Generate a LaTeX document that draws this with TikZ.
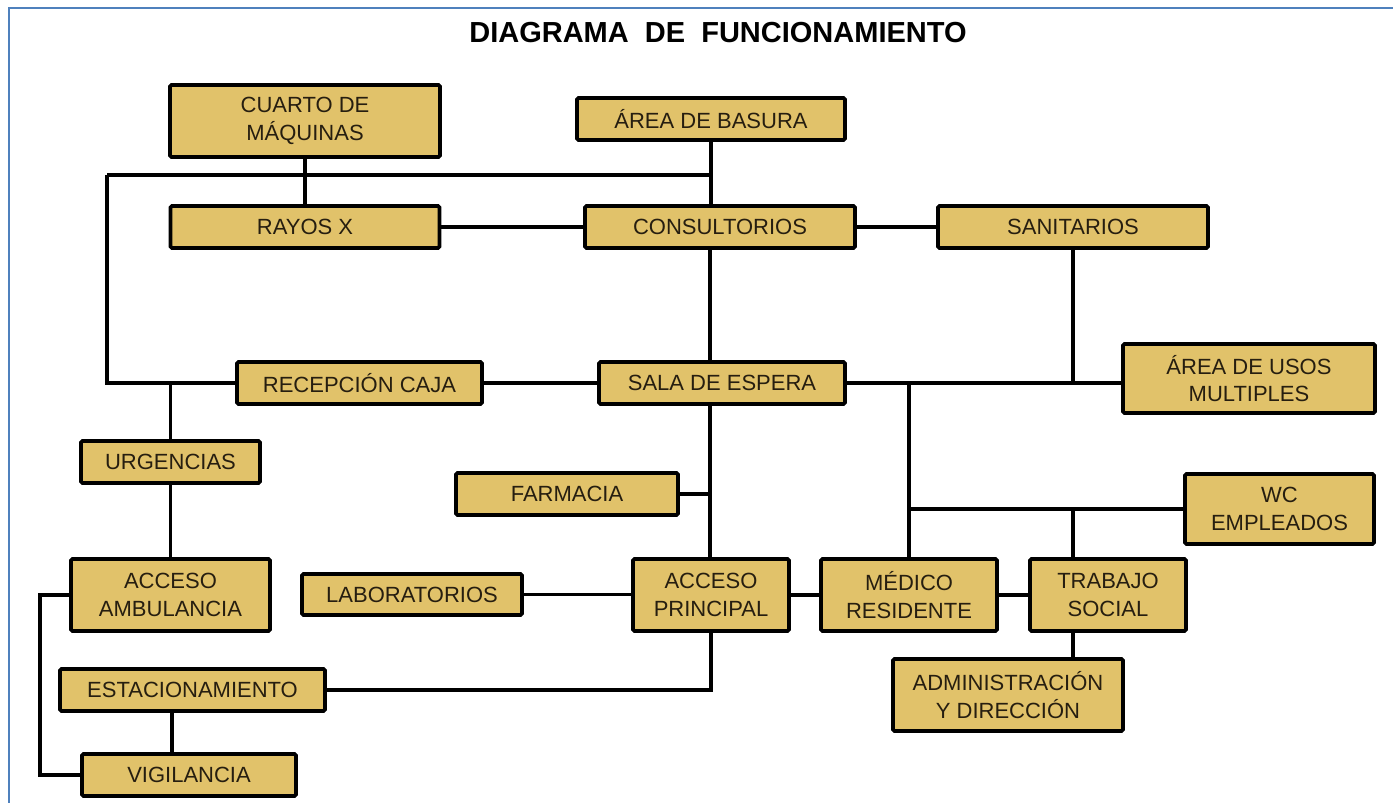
\documentclass[tikz,border=0pt]{standalone}
\usepackage{fontspec}
\setmainfont{Liberation Sans}
\definecolor{boxfill}{HTML}{E1C26A}
\definecolor{boxtext}{HTML}{261E10}
\definecolor{frameblue}{HTML}{4F81BD}
\begin{document}
\begin{tikzpicture}[x=1pt,y=-1pt,
  roombox/.style={draw=black, line width=3.6pt, fill=boxfill, rounded corners=1.5pt,
    text=boxtext, align=center, inner sep=0pt,
    font=\fontsize{22}{27.5}\selectfont},
  link/.style={draw=black, line width=3.6pt}]
\useasboundingbox (0,0) rectangle (1393,803);
\fill[white] (0,0) rectangle (1393,803);
\draw[frameblue, line width=2.2pt] (9,803) -- (9,8) -- (1393,8);

\node[font=\bfseries\fontsize{29}{32}\selectfont] (title) at (718,33) {DIAGRAMA\ \ DE\ \ FUNCIONAMIENTO};

\node[roombox, minimum width=270, minimum height=72] (cuarto) at (305,121) {CUARTO DE\\MÁQUINAS};
\node[roombox, minimum width=268, minimum height=42] (basura) at (711,119) {ÁREA DE BASURA};
\node[roombox, minimum width=269, minimum height=42] (rayos) at (305,227) {RAYOS X};
\node[roombox, minimum width=270, minimum height=42] (consult) at (720,227) {CONSULTORIOS};
\node[roombox, minimum width=270, minimum height=42] (sanit) at (1073,227) {SANITARIOS};
\node[roombox, minimum width=245, minimum height=42] (recep) at (359.5,383) {RECEPCIÓN CAJA};
\node[roombox, minimum width=246, minimum height=42] (sala) at (722,383) {SALA DE ESPERA};
\node[roombox, minimum width=252, minimum height=69] (usos) at (1249,378.5) {ÁREA DE USOS\\MULTIPLES};
\node[roombox, minimum width=179, minimum height=42] (urg) at (170.5,462) {URGENCIAS};
\node[roombox, minimum width=222, minimum height=42] (farm) at (567,494) {FARMACIA};
\node[roombox, minimum width=189, minimum height=70] (wc) at (1279.5,509) {WC\\EMPLEADOS};
\node[roombox, minimum width=199, minimum height=72] (ambu) at (170.5,595) {ACCESO\\AMBULANCIA};
\node[roombox, minimum width=220, minimum height=41] (lab) at (412,594.5) {LABORATORIOS};
\node[roombox, minimum width=156, minimum height=72] (accp) at (711,595) {ACCESO\\PRINCIPAL};
\node[roombox, minimum width=176, minimum height=72] (medico) at (909,595) {MÉDICO\\RESIDENTE};
\node[roombox, minimum width=156, minimum height=72] (trabajo) at (1108,595) {TRABAJO\\SOCIAL};
\node[roombox, minimum width=230, minimum height=72] (admin) at (1008,695) {ADMINISTRACIÓN\\Y DIRECCIÓN};
\node[roombox, minimum width=265, minimum height=42] (estac) at (192.5,690) {ESTACIONAMIENTO};
\node[roombox, minimum width=214, minimum height=42] (vigil) at (189,775) {VIGILANCIA};

\coordinate (cL) at (107,175);
\coordinate (cL2) at (107,383);
\coordinate (sp) at (710,300);
\coordinate (cl) at (172,700);
\coordinate (bx) at (40,700);

\draw[link] (cuarto.south) -- (rayos.north);
\draw[link] (basura.south) -- (basura.south |- consult.north);
\draw[link] (cL) -- (basura.south |- cL);
\draw[link] (cL) -- (cL2) -- (recep.west);
\draw[link] (rayos.east) -- (consult.west);
\draw[link] (consult.east) -- (sanit.west);
\draw[link] (consult.south -| sp) -- (sala.north -| sp);
\draw[link] (recep.east) -- (sala.west);
\draw[link] (sala.east) -- (sala.east -| usos.west);
\draw[link] (sanit.south) -- (sanit.south |- sala.east);
\draw[link] (medico.north |- sala.east) -- (medico.north);
\draw[link] (medico.north |- wc.west) -- (wc.west);
\draw[link] (sanit.south |- wc.west) -- (sanit.south |- trabajo.north);
\draw[link] (urg.north |- cL2) -- (urg.north);
\draw[link] (urg.south) -- (ambu.north);
\draw[link] (sala.south -| sp) -- (accp.north -| sp);
\draw[link] (farm.east) -- (farm.east -| sp);
\draw[link] (lab.east) -- (lab.east -| accp.west);
\draw[link] (accp.east) -- (medico.west);
\draw[link] (medico.east) -- (trabajo.west);
\draw[link] (trabajo.south -| sanit.south) -- (admin.north -| sanit.south);
\draw[link] (accp.south) -- (accp.south |- estac.east) -- (estac.east);
\draw[link] (estac.south -| cl) -- (vigil.north -| cl);
\draw[link] (ambu.west) -- (ambu.west -| bx) -- (vigil.west -| bx) -- (vigil.west);
\end{tikzpicture}
\end{document}
